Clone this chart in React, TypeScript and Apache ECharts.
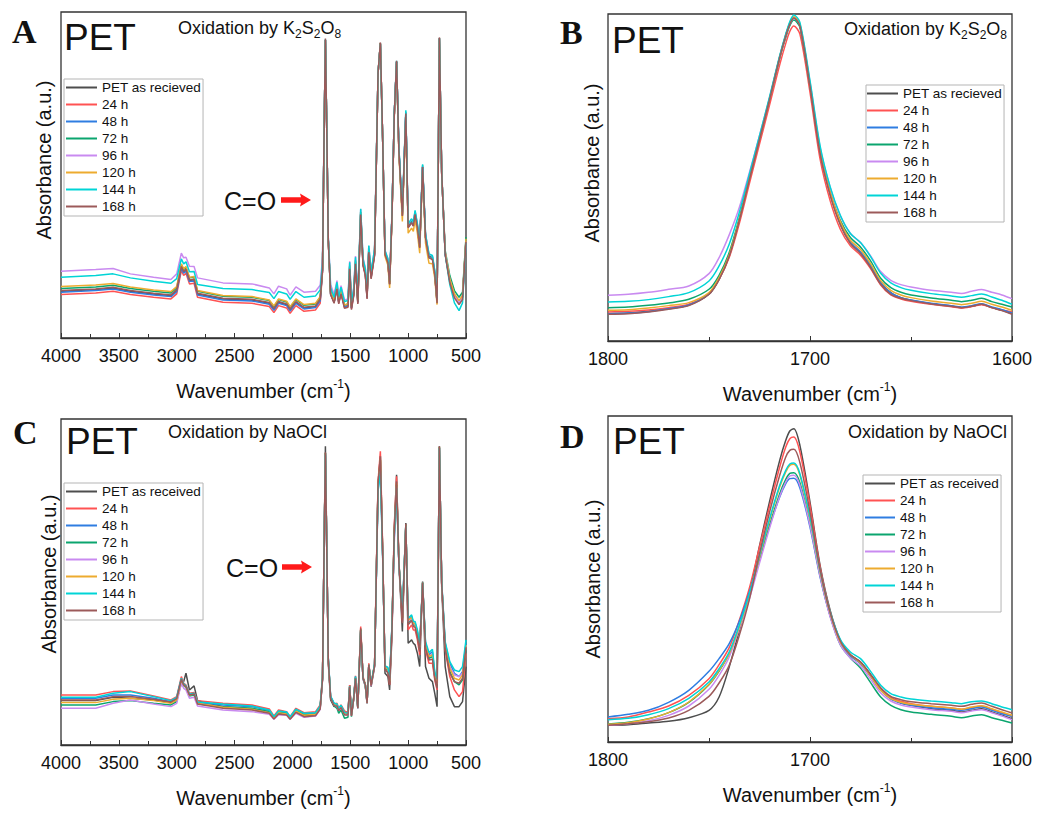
import React, { useEffect, useRef } from 'react';
import * as echarts from 'echarts';

const FONT = '"Liberation Sans", Arial, sans-serif';
const SERIF = '"Liberation Serif", "Times New Roman", serif';

const NAMES_K = ['PET as recieved', '24 h', '48 h', '72 h', '96 h', '120 h', '144 h', '168 h'];
const NAMES_N = ['PET as received', '24 h', '48 h', '72 h', '96 h', '120 h', '144 h', '168 h'];
const COLORS = ['#4d4d4d', '#ff5252', '#2f7de1', '#0ba56e', '#c98af0', '#edab2f', '#00d4d6', '#9c5a5a'];

// wavenumbers (cm-1) for full spectra (panels A, C)
const WN_FULL = [4000, 3700, 3550, 3400, 3200, 3050, 3000, 2960, 2940, 2920, 2890, 2850, 2820, 2600, 2350, 2200, 2160, 2120, 2050, 2020, 1970, 1900, 1800, 1760, 1740, 1728, 1715, 1702, 1690, 1670, 1640, 1615, 1600, 1580, 1550, 1520, 1505, 1490, 1470, 1455, 1435, 1410, 1390, 1370, 1355, 1340, 1320, 1290, 1260, 1240, 1220, 1200, 1175, 1160, 1140, 1120, 1100, 1080, 1050, 1020, 1000, 970, 955, 940, 920, 900, 875, 850, 820, 790, 770, 750, 730, 710, 680, 640, 600, 560, 530, 500];
// wavenumbers (cm-1) for C=O region (panels B, D)
const WN_ZOOM = [1800, 1790, 1780, 1770, 1760, 1750, 1745, 1740, 1735, 1730, 1725, 1720, 1715, 1712, 1710, 1708, 1705, 1700, 1695, 1690, 1685, 1680, 1675, 1670, 1665, 1660, 1655, 1650, 1640, 1630, 1625, 1620, 1615, 1610, 1605, 1600];

// Panel A: K2S2O8, full range (arbitrary absorbance units)
const A_PET = [140, 145, 150, 140, 132, 127, 142, 212, 197, 204, 172, 174, 132, 117, 114, 104, 86, 107, 100, 84, 107, 90, 94, 114, 202, 562, 892, 592, 292, 132, 107, 152, 107, 137, 94, 97, 212, 90, 132, 227, 107, 372, 222, 192, 122, 262, 182, 252, 792, 882, 592, 252, 227, 162, 362, 667, 827, 562, 367, 672, 332, 347, 337, 372, 332, 272, 512, 302, 242, 237, 192, 107, 897, 492, 252, 172, 127, 107, 122, 292];
const A_24 = [130, 135, 140, 130, 122, 117, 132, 202, 187, 194, 162, 164, 122, 107, 104, 94, 76, 97, 90, 74, 97, 80, 84, 104, 197, 562, 892, 592, 292, 132, 107, 149, 104, 134, 91, 94, 209, 87, 129, 224, 104, 369, 219, 189, 119, 259, 179, 249, 792, 882, 592, 252, 227, 162, 362, 667, 827, 562, 367, 672, 332, 347, 337, 372, 332, 272, 512, 302, 242, 237, 192, 107, 897, 492, 252, 172, 130, 110, 125, 295];
const A_48 = [137, 142, 147, 137, 129, 124, 139, 209, 194, 201, 169, 171, 129, 114, 111, 101, 83, 104, 97, 81, 104, 87, 91, 111, 202, 562, 892, 592, 292, 132, 107, 152, 107, 137, 94, 97, 212, 90, 132, 227, 107, 372, 222, 192, 122, 262, 182, 252, 792, 882, 592, 252, 227, 162, 362, 667, 827, 562, 367, 672, 332, 347, 337, 372, 332, 272, 512, 302, 242, 237, 192, 107, 897, 492, 252, 172, 129, 109, 124, 294];
const A_72 = [148, 153, 158, 148, 140, 135, 150, 220, 205, 212, 180, 182, 140, 125, 122, 112, 94, 115, 108, 92, 115, 98, 102, 122, 208, 562, 892, 592, 292, 137, 112, 157, 112, 142, 99, 102, 217, 95, 137, 232, 112, 377, 227, 197, 127, 267, 187, 257, 792, 882, 592, 257, 232, 167, 362, 667, 827, 567, 372, 677, 337, 352, 342, 377, 337, 277, 517, 307, 247, 242, 197, 112, 897, 497, 262, 187, 142, 122, 137, 302];
const A_96 = [200, 205, 208, 192, 182, 175, 192, 254, 240, 242, 215, 214, 180, 165, 162, 150, 132, 155, 147, 128, 153, 137, 140, 158, 240, 570, 892, 592, 300, 160, 130, 172, 127, 157, 114, 117, 230, 110, 152, 245, 127, 385, 240, 210, 142, 275, 200, 265, 792, 880, 592, 262, 237, 172, 365, 665, 825, 567, 375, 675, 340, 355, 345, 380, 340, 280, 515, 310, 250, 245, 200, 115, 897, 495, 258, 175, 127, 107, 122, 290];
const A_120 = [154, 159, 163, 153, 144, 139, 154, 222, 207, 214, 182, 184, 142, 127, 124, 114, 96, 117, 110, 94, 117, 100, 104, 124, 210, 562, 892, 592, 292, 137, 112, 157, 112, 142, 99, 102, 217, 95, 137, 232, 112, 377, 227, 197, 127, 267, 187, 257, 792, 882, 592, 245, 218, 150, 355, 660, 825, 550, 349, 660, 314, 329, 319, 354, 314, 254, 500, 284, 224, 222, 180, 100, 897, 490, 257, 177, 132, 112, 127, 297];
const A_144 = [182, 187, 192, 180, 170, 164, 178, 237, 222, 228, 198, 199, 160, 148, 145, 136, 118, 139, 132, 116, 139, 122, 126, 144, 225, 570, 895, 600, 300, 150, 122, 167, 122, 152, 109, 112, 227, 105, 147, 242, 122, 387, 237, 207, 137, 277, 197, 267, 795, 880, 590, 262, 237, 172, 370, 672, 830, 572, 377, 682, 342, 357, 347, 382, 342, 282, 520, 312, 252, 247, 202, 117, 897, 495, 250, 160, 105, 82, 105, 285];
const A_168 = [142, 147, 152, 142, 134, 129, 144, 214, 199, 206, 174, 176, 134, 119, 116, 106, 88, 109, 102, 86, 109, 92, 96, 116, 204, 565, 897, 595, 290, 130, 104, 147, 102, 132, 89, 92, 207, 85, 127, 222, 102, 370, 217, 187, 117, 257, 177, 247, 795, 885, 595, 250, 225, 160, 360, 665, 830, 560, 365, 672, 330, 345, 335, 370, 330, 270, 512, 300, 240, 235, 190, 104, 900, 495, 250, 166, 120, 100, 115, 288];

// Panel B: K2S2O8, C=O band
const B_PET = [82, 84, 89, 97, 108, 140, 185, 255, 362, 485, 605, 725, 850, 915, 950, 968, 945, 765, 565, 440, 352, 295, 265, 225, 175, 145, 130, 122, 112, 105, 100, 104, 110, 100, 92, 82];
const B_24 = [87, 89, 93, 100, 110, 142, 185, 250, 352, 472, 590, 708, 828, 892, 928, 944, 920, 745, 545, 420, 335, 285, 257, 217, 168, 138, 126, 119, 110, 103, 99, 103, 109, 100, 93, 87];
const B_48 = [82, 84, 88, 97, 108, 142, 187, 257, 364, 487, 607, 727, 852, 917, 952, 970, 947, 767, 567, 442, 354, 297, 267, 227, 175, 144, 130, 123, 113, 106, 102, 106, 112, 102, 94, 84];
const B_72 = [100, 102, 107, 114, 125, 155, 197, 265, 368, 488, 607, 725, 848, 910, 945, 962, 940, 765, 570, 447, 362, 310, 282, 240, 188, 160, 146, 138, 129, 122, 118, 122, 128, 118, 110, 102];
const B_96 = [137, 140, 146, 155, 165, 202, 250, 318, 400, 505, 615, 730, 852, 915, 950, 967, 947, 775, 580, 460, 375, 322, 295, 255, 208, 182, 169, 162, 152, 146, 142, 149, 154, 146, 138, 127];
const B_120 = [92, 94, 99, 106, 115, 145, 190, 258, 364, 487, 607, 727, 852, 917, 953, 972, 950, 770, 570, 445, 358, 302, 274, 232, 181, 152, 138, 130, 120, 113, 109, 113, 119, 110, 102, 92];
const B_144 = [117, 119, 124, 133, 145, 180, 225, 290, 385, 500, 615, 732, 855, 920, 957, 977, 955, 780, 585, 462, 377, 322, 295, 253, 203, 174, 160, 152, 142, 135, 131, 136, 141, 132, 122, 110];
const B_168 = [80, 82, 87, 95, 106, 140, 184, 254, 361, 484, 604, 724, 849, 914, 949, 968, 944, 763, 562, 437, 348, 292, 262, 220, 170, 140, 128, 121, 111, 104, 100, 104, 110, 100, 91, 80];

// Panel C: NaOCl, full range
const C_PET = [133, 133, 143, 140, 135, 127, 135, 185, 190, 215, 165, 177, 133, 115, 109, 100, 80, 95, 93, 80, 100, 87, 90, 110, 195, 545, 895, 565, 245, 135, 115, 120, 105, 115, 100, 97, 180, 90, 140, 200, 110, 345, 200, 175, 125, 240, 175, 235, 785, 865, 575, 215, 205, 165, 325, 645, 810, 545, 340, 665, 305, 315, 305, 300, 275, 235, 490, 235, 200, 190, 155, 115, 895, 475, 235, 145, 115, 115, 130, 235];
const C_24 = [150, 150, 160, 162, 147, 135, 145, 205, 185, 180, 155, 157, 133, 125, 120, 108, 87, 105, 100, 85, 110, 97, 100, 120, 205, 550, 870, 560, 255, 143, 123, 125, 110, 120, 102, 97, 180, 93, 145, 207, 115, 355, 205, 183, 130, 245, 183, 243, 790, 880, 585, 230, 220, 180, 345, 655, 805, 550, 370, 655, 345, 360, 345, 345, 315, 270, 485, 285, 245, 245, 195, 165, 890, 480, 285, 205, 165, 145, 160, 275];
const C_48 = [140, 140, 150, 150, 140, 130, 140, 197, 180, 175, 150, 153, 127, 120, 115, 103, 83, 100, 97, 83, 105, 93, 95, 115, 200, 545, 875, 555, 260, 145, 125, 120, 107, 117, 95, 93, 175, 90, 143, 205, 113, 345, 200, 180, 127, 240, 180, 240, 765, 825, 565, 235, 230, 195, 355, 625, 775, 545, 390, 660, 375, 385, 365, 365, 340, 295, 485, 305, 270, 280, 215, 190, 890, 485, 305, 245, 215, 205, 220, 305];
const C_72 = [120, 120, 130, 133, 125, 120, 130, 193, 177, 173, 147, 150, 123, 115, 110, 100, 80, 97, 95, 80, 103, 90, 93, 112, 200, 545, 875, 555, 255, 140, 117, 110, 95, 105, 80, 83, 175, 85, 140, 200, 110, 345, 200, 180, 125, 240, 180, 240, 775, 855, 570, 230, 225, 190, 350, 635, 780, 545, 380, 660, 365, 380, 360, 360, 333, 287, 485, 295, 260, 265, 205, 175, 893, 483, 293, 220, 190, 180, 195, 290];
const C_96 = [110, 110, 125, 135, 123, 115, 125, 185, 170, 165, 140, 143, 117, 105, 100, 92, 77, 90, 90, 77, 95, 83, 87, 107, 197, 540, 870, 553, 255, 143, 120, 117, 103, 113, 93, 90, 173, 87, 140, 200, 110, 340, 197, 177, 125, 237, 177, 237, 770, 845, 565, 233, 227, 193, 345, 605, 775, 540, 385, 655, 370, 380, 363, 363, 337, 293, 483, 300, 265, 273, 210, 185, 890, 485, 300, 235, 210, 205, 215, 300];
const C_120 = [127, 127, 137, 140, 133, 125, 135, 195, 180, 175, 150, 153, 125, 113, 107, 97, 80, 97, 93, 79, 102, 89, 92, 112, 200, 547, 875, 557, 255, 143, 121, 120, 105, 115, 95, 93, 177, 89, 143, 203, 112, 347, 200, 180, 127, 240, 180, 240, 777, 855, 570, 233, 227, 190, 350, 630, 785, 547, 380, 660, 373, 383, 365, 363, 337, 293, 487, 300, 265, 270, 210, 183, 893, 485, 300, 230, 200, 195, 210, 300];
const C_144 = [143, 143, 155, 160, 145, 133, 143, 200, 183, 177, 153, 155, 129, 123, 117, 105, 85, 102, 99, 84, 107, 95, 97, 117, 202, 547, 870, 555, 260, 147, 125, 123, 109, 119, 97, 95, 177, 92, 145, 205, 115, 343, 200, 180, 129, 240, 183, 243, 760, 820, 560, 237, 233, 200, 357, 620, 770, 543, 395, 657, 380, 390, 370, 370, 345, 300, 487, 310, 277, 287, 220, 197, 890, 490, 310, 250, 225, 220, 235, 315];
const C_168 = [135, 135, 145, 145, 137, 129, 139, 197, 180, 175, 150, 153, 123, 110, 105, 95, 78, 93, 90, 77, 98, 85, 88, 108, 197, 545, 877, 557, 253, 140, 118, 117, 103, 112, 90, 90, 175, 87, 140, 200, 110, 350, 200, 180, 125, 240, 178, 238, 783, 865, 575, 225, 217, 180, 340, 640, 790, 547, 365, 663, 360, 373, 355, 353, 325, 280, 487, 290, 255, 257, 200, 170, 895, 483, 290, 215, 190, 185, 200, 293];

// Panel D: NaOCl, C=O band
const D_PET = [50, 52, 57, 62, 73, 95, 135, 225, 335, 445, 588, 722, 845, 905, 933, 940, 890, 720, 530, 395, 305, 262, 240, 203, 160, 133, 117, 110, 100, 95, 90, 95, 100, 90, 80, 70];
const D_24 = [70, 75, 90, 108, 140, 190, 232, 283, 365, 462, 585, 708, 825, 885, 910, 915, 870, 710, 525, 390, 302, 260, 237, 198, 157, 133, 122, 115, 107, 102, 98, 103, 107, 98, 87, 77];
const D_48 = [75, 83, 95, 119, 155, 212, 250, 295, 362, 450, 548, 648, 735, 775, 790, 791, 762, 645, 495, 378, 298, 258, 235, 197, 155, 129, 117, 110, 103, 98, 95, 100, 105, 95, 85, 77];
const D_72 = [54, 59, 70, 88, 119, 172, 213, 265, 345, 438, 545, 650, 745, 788, 806, 808, 778, 655, 500, 378, 292, 252, 222, 178, 135, 110, 97, 90, 83, 77, 73, 78, 82, 73, 65, 57];
const D_96 = [50, 55, 64, 80, 108, 158, 200, 255, 340, 430, 537, 642, 737, 780, 798, 800, 770, 650, 497, 375, 292, 252, 228, 188, 147, 123, 111, 105, 97, 92, 88, 93, 97, 88, 78, 67];
const D_120 = [53, 58, 69, 88, 120, 173, 215, 265, 345, 440, 555, 665, 765, 810, 830, 833, 800, 670, 510, 385, 300, 262, 237, 198, 155, 130, 119, 113, 107, 102, 98, 105, 109, 100, 90, 80];
const D_144 = [67, 71, 82, 100, 131, 180, 220, 270, 350, 445, 560, 670, 770, 815, 834, 837, 805, 675, 515, 390, 308, 270, 250, 212, 170, 145, 135, 129, 123, 118, 115, 121, 123, 115, 105, 97];
const D_168 = [50, 55, 61, 72, 95, 137, 177, 230, 320, 428, 565, 690, 800, 855, 875, 878, 838, 690, 518, 388, 303, 262, 240, 202, 163, 137, 127, 121, 115, 110, 107, 113, 117, 107, 97, 87];

const X_TICKS_FULL = { min: 500, max: 4000, interval: 500 };
const X_TICKS_ZOOM = { min: 1600, max: 1800, interval: 100 };

const PANELS = [
  { names: NAMES_K, wn: WN_FULL, data: [A_PET, A_24, A_48, A_72, A_96, A_120, A_144, A_168], ticks: X_TICKS_FULL, ymax: 976, grid: { left: 61, top: 12, width: 405, height: 326 }, smooth: false },
  { names: NAMES_K, wn: WN_ZOOM, data: [B_PET, B_24, B_48, B_72, B_96, B_120, B_144, B_168], ticks: X_TICKS_ZOOM, ymax: 980, grid: { left: 608, top: 14, width: 404, height: 327 }, smooth: true },
  { names: NAMES_N, wn: WN_FULL, data: [C_PET, C_24, C_48, C_72, C_96, C_120, C_144, C_168], ticks: X_TICKS_FULL, ymax: 977, grid: { left: 61, top: 419, width: 405, height: 326 }, smooth: false },
  { names: NAMES_N, wn: WN_ZOOM, data: [D_PET, D_24, D_48, D_72, D_96, D_120, D_144, D_168], ticks: X_TICKS_ZOOM, ymax: 978, grid: { left: 608, top: 416, width: 404, height: 326 }, smooth: true },
];

const LEGEND_POS = [
  { left: 64, top: 79, padding: [0, 2, 1, 2], itemWidth: 31 },
  { left: 866, top: 85, padding: [0, 2, 1, 1], itemWidth: 31 },
  { left: 64, top: 483, padding: [0, 2, 1, 2], itemWidth: 31 },
  { left: 863, top: 475, padding: [0, 2, 1, 2], itemWidth: 30 },
];

function txt(x: number, y: number, text: string, font: string, align = 'left', extra: any = {}) {
  const { style, ...rest } = extra;
  return {
    type: 'text', x, y, silent: true, ...rest,
    style: { text, font, fill: '#111', textAlign: align, textVerticalAlign: 'middle', ...(style || {}) },
  };
}

function buildOption() {
  const grid: any[] = [];
  const xAxis: any[] = [];
  const yAxis: any[] = [];
  const series: any[] = [];
  const legend: any[] = [];
  PANELS.forEach((p, i) => {
    grid.push({ ...p.grid, show: true, borderColor: '#333', borderWidth: 1.3, backgroundColor: 'transparent' });
    xAxis.push({
      type: 'value', gridIndex: i, inverse: true, min: p.ticks.min, max: p.ticks.max, interval: p.ticks.interval,
      axisLine: { show: true, lineStyle: { color: '#333', width: 1.3 } },
      axisTick: { show: true, inside: true, length: 5, lineStyle: { color: '#333' } },
      minorTick: { show: true, splitNumber: 2, length: 4, lineStyle: { color: '#333' } },
      splitLine: { show: false }, minorSplitLine: { show: false },
      axisLabel: { fontSize: 18, fontFamily: FONT, color: '#111', margin: 9, showMinLabel: true, showMaxLabel: true, formatter: (v: number) => String(v) },
      name: 'Wavenumber (cm{sup|-1})', nameLocation: 'middle', nameGap: 40,
      nameTextStyle: {
        fontSize: 20, fontFamily: FONT, color: '#111', lineHeight: 26,
        rich: { sup: { fontSize: 12, lineHeight: 12, verticalAlign: 'top', fontFamily: FONT, color: '#111' } },
      },
    });
    yAxis.push({ type: 'value', gridIndex: i, min: 0, max: p.ymax, show: false });
    p.data.forEach((vals, k) => {
      series.push({
        type: 'line', name: p.names[k], xAxisIndex: i, yAxisIndex: i,
        data: p.wn.map((w, j) => [w, vals[j]]),
        symbol: 'none', silent: true, smooth: p.smooth ? 0.3 : false,
        lineStyle: { color: COLORS[k], width: 1.5 }, itemStyle: { color: COLORS[k] },
      });
    });
    const lp = LEGEND_POS[i];
    legend.push({
      orient: 'vertical', left: lp.left, top: lp.top, padding: lp.padding, data: p.names,
      icon: 'rect', itemWidth: lp.itemWidth, itemHeight: 2, itemGap: 0, selectedMode: false,
      borderColor: '#b5b5b5', borderWidth: 1, backgroundColor: '#fff',
      textStyle: { fontSize: 13.5, lineHeight: 17, fontFamily: FONT, color: '#111' },
    });
  });

  const subRich = {
    s: { fontSize: 12, lineHeight: 12, verticalAlign: 'bottom', fontFamily: FONT, fill: '#111' },
  };
  const oxK = 'Oxidation by K{s|2}S{s|2}O{s|8}';
  const oxN = 'Oxidation by NaOCl';
  const bigFont = `37px ${FONT}`;
  const letterFont = `bold 34px ${SERIF}`;
  const labFont = `18px ${FONT}`;
  const yFont = `20px ${FONT}`;
  const coFont = `25px ${FONT}`;

  const arrow = (x0: number, y: number) => ({
    type: 'polygon', silent: true,
    shape: { points: [[x0, y - 2.8], [x0 + 20, y - 2.8], [x0 + 19, y - 6.5], [x0 + 30, y], [x0 + 19, y + 6.5], [x0 + 20, y + 2.8], [x0, y + 2.8]] },
    style: { fill: '#ff1a1a' },
  });

  const graphic: any[] = [
    txt(12, 31, 'A', letterFont), txt(560, 32, 'B', letterFont), txt(13, 432, 'C', letterFont), txt(560, 436, 'D', letterFont),
    txt(64, 37, 'PET', bigFont), txt(612, 40, 'PET', bigFont), txt(66, 441, 'PET', bigFont), txt(613, 441, 'PET', bigFont),
    txt(178, 28, oxK, labFont, 'left', { style: { lineHeight: 24, rich: subRich } }),
    txt(1007, 29, oxK, labFont, 'right', { style: { lineHeight: 24, rich: subRich } }),
    txt(168, 432, oxN, labFont, 'left'),
    txt(1007, 432, oxN, labFont, 'right'),
    txt(44, 160, 'Absorbance (a.u.)', yFont, 'center', { rotation: Math.PI / 2 }),
    txt(592, 163, 'Absorbance (a.u.)', yFont, 'center', { rotation: Math.PI / 2 }),
    txt(49, 574, 'Absorbance (a.u.)', yFont, 'center', { rotation: Math.PI / 2 }),
    txt(593, 579, 'Absorbance (a.u.)', yFont, 'center', { rotation: Math.PI / 2 }),
    txt(224, 201, 'C=O', coFont), arrow(281, 200),
    txt(226, 568, 'C=O', coFont), arrow(282, 567),
  ];

  return {
    animation: false,
    backgroundColor: '#fff',
    grid, xAxis, yAxis, series, legend, graphic,
  };
}

export default function App() {
  const ref = useRef<HTMLDivElement>(null);
  useEffect(() => {
    document.body.style.margin = '0';
    const chart = echarts.init(ref.current as HTMLDivElement, undefined, { renderer: 'svg' });
    chart.setOption(buildOption() as any);
    return () => chart.dispose();
  }, []);
  return <div ref={ref} style={{ position: 'absolute', left: 0, top: 0, width: 1044, height: 819, background: '#fff' }} />;
}
